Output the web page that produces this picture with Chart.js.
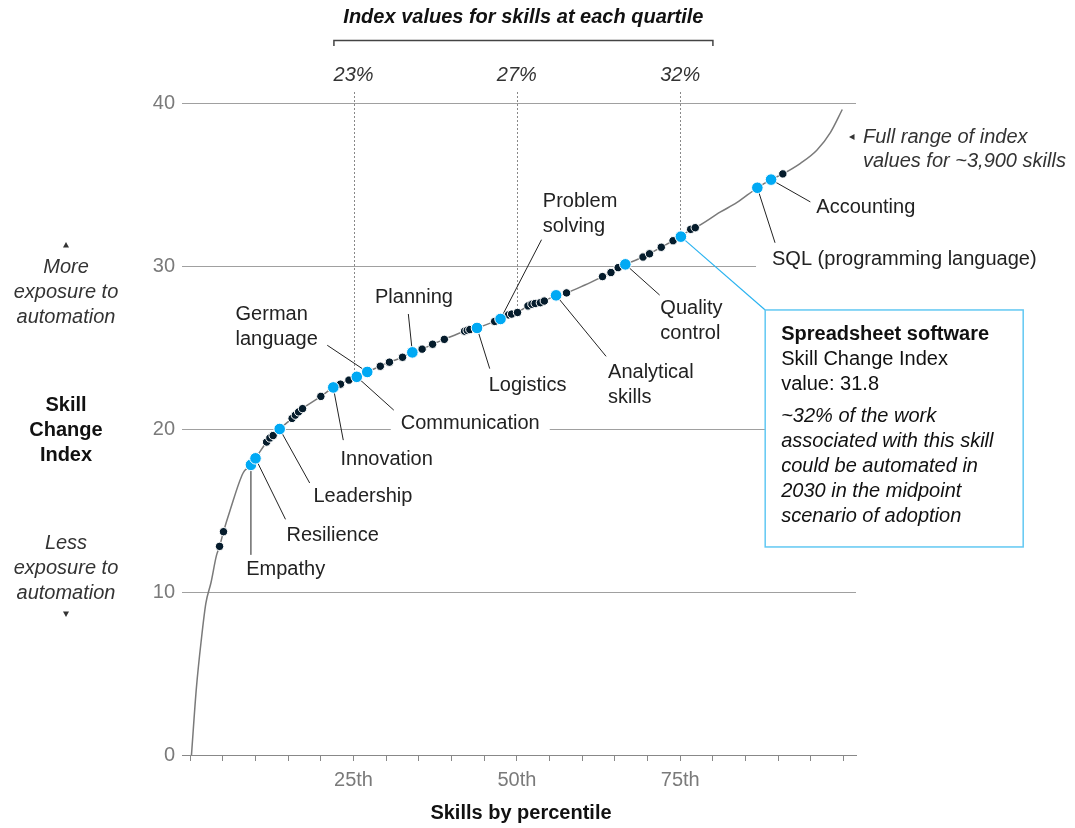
<!DOCTYPE html>
<html>
<head>
<meta charset="utf-8">
<script src="https://cdn.jsdelivr.net/npm/chart.js@4.4.1/dist/chart.umd.min.js"></script>
<style>
    html, body { margin: 0; padding: 0; background: #fff; }
</style>
</head>
<body>
<canvas id="skills-chart" width="1075" height="828"></canvas>
<script>
// Highlighted skills (blue dots)
const skillNames = ['Empathy', 'Resilience', 'Leadership', 'Innovation', 'Communication', 'German language',
    'Planning', 'Logistics', 'Problem solving', 'Analytical skills', 'Quality control',
    'Spreadsheet software', 'SQL (programming language)', 'Accounting'];
const skillPct = [9.3, 10.0, 13.7, 21.9, 25.5, 27.1, 34.0, 43.9, 47.5, 56.0, 66.6, 75.1, 86.8, 88.9];
const skillVal = [17.8, 18.2, 20.0, 22.55, 23.2, 23.5, 24.7, 26.2, 26.75, 28.2, 30.1, 31.8, 34.8, 35.3];

// Other sampled skills (dark dots)
const otherPct = [4.5, 5.1, 11.7, 12.2, 12.7, 15.6, 16.1, 16.6, 17.2, 20.0, 23.0, 24.3, 29.1, 30.5, 32.5,
    35.5, 37.1, 38.9, 42.0, 42.4, 42.8, 46.6, 48.7, 49.2, 50.1, 51.7, 52.3, 52.8, 53.6, 54.2,
    57.6, 63.1, 64.4, 65.5, 69.3, 70.3, 72.1, 73.9, 76.6, 77.3, 90.7];
const otherVal = [12.8, 13.7, 19.2, 19.45, 19.6, 20.65, 20.85, 21.05, 21.25, 22.0, 22.75, 23.0, 23.85, 24.1, 24.4,
    24.9, 25.2, 25.5, 26.0, 26.05, 26.1, 26.6, 27.0, 27.05, 27.15, 27.55, 27.65, 27.7, 27.75, 27.85,
    28.35, 29.35, 29.6, 29.9, 30.55, 30.75, 31.15, 31.55, 32.25, 32.35, 35.65];

// Full range curve (~3,900 skills) between the dots
const curvePct = [0.2, 0.95, 1.7, 2.4, 3.2, 4.0, 6.1, 8.1, 60.5, 81.1, 83.7, 93.4, 95.9, 98.0, 99.8];
const curveVal = [0, 4.1, 7.05, 9.3, 10.6, 12.2, 15.0, 17.3, 28.85, 33.3, 33.9, 36.3, 37.1, 38.2, 39.6];

// Axes
const yTicks = [0, 10, 20, 30, 40];
const xTicks = [0, 5, 10, 15, 20, 25, 30, 35, 40, 45, 50, 55, 60, 65, 70, 75, 80, 85, 90, 95, 100];
const xLabelled = [25, 50, 75];

// Quartiles
const quartilePct = [25, 50, 75];
const quartileVal = [23, 27, 32];

const FONT = '"Liberation Sans", Arial, sans-serif';
const BLUE = '#00a9f4';
const NAVY = '#051c2c';
const TEXT = '#222';

const toPoints = (xs, ys) => xs.map((v, i) => ({ x: v, y: ys[i] }));
const curvePoints = toPoints(curvePct, curveVal)
    .concat(toPoints(skillPct, skillVal), toPoints(otherPct, otherVal))
    .sort((a, b) => a.x - b.x);

// label placement, offsets in px from the dot: text (tx, ty), leader end (lx, ly)
const labelLayout = {
    'Empathy': { tx: -4.7, ty: 105, lx: 0, ly: 90 },
    'Resilience': { tx: 31, ty: 77, lx: 30, ly: 61 },
    'Leadership': { tx: 33.7, ty: 67.7, lx: 30, ly: 54 },
    'Innovation': { tx: 7.3, ty: 71.7, lx: 10, ly: 52.7 },
    'Communication': { tx: 44, ty: 46.3, lx: 37, ly: 33.3, gapL: 10, gapR: 10 },
    'German language': { tx: -131.7, ty: -57.7, lx: -40, ly: -26.7, lines: ['German', 'language'] },
    'Planning': { tx: -37.3, ty: -54.7, lx: -4, ly: -38.4 },
    'Logistics': { tx: 11.7, ty: 57.7, lx: 12.7, ly: 40.7 },
    'Problem solving': { tx: 42.3, ty: -117.3, lx: 41, ly: -79.3, lines: ['Problem', 'solving'] },
    'Analytical skills': { tx: 52, ty: 77, lx: 50, ly: 61, lines: ['Analytical', 'skills'] },
    'Quality control': { tx: 35, ty: 43.7, lx: 34.3, ly: 30.7, lines: ['Quality', 'control'] },
    'SQL (programming language)': { tx: 14.7, ty: 71.7, lx: 17.7, ly: 55, gapL: 16, gapR: 4 },
    'Accounting': { tx: 45.3, ty: 28.3, lx: 39.3, ly: 22.3 }
};

function font(size, weight, style) {
    return (style || 'normal') + ' ' + (weight || 'normal') + ' ' + size + 'px ' + FONT;
}

function triangle(ctx, x, y, dir) {
    ctx.beginPath();
    if (dir === 'up') { ctx.moveTo(x, y - 3); ctx.lineTo(x - 3, y + 2.5); ctx.lineTo(x + 3, y + 2.5); }
    if (dir === 'down') { ctx.moveTo(x, y + 3); ctx.lineTo(x - 3, y - 2.5); ctx.lineTo(x + 3, y - 2.5); }
    if (dir === 'left') { ctx.moveTo(x - 3, y); ctx.lineTo(x + 2.5, y - 3); ctx.lineTo(x + 2.5, y + 3); }
    ctx.closePath();
    ctx.fill();
}

const annotations = {
    id: 'annotations',
    beforeDatasetsDraw(chart) {
        const { ctx, chartArea: a, scales: { x, y } } = chart;
        ctx.save();

        // quartile dotted lines
        ctx.strokeStyle = '#888';
        ctx.lineWidth = 1;
        ctx.setLineDash([2, 2]);
        quartilePct.forEach((p, i) => {
            const px = Math.round(x.getPixelForValue(p)) + 0.5;
            ctx.beginPath();
            ctx.moveTo(px, 92);
            ctx.lineTo(px, y.getPixelForValue(quartileVal[i]));
            ctx.stroke();
        });
        ctx.setLineDash([]);

        // quartile header
        ctx.fillStyle = '#333';
        ctx.textBaseline = 'middle';
        ctx.textAlign = 'center';
        ctx.font = font(20, 'normal', 'italic');
        quartilePct.forEach((p, i) => ctx.fillText(quartileVal[i] + '%', x.getPixelForValue(p), 75));
        const bx0 = x.getPixelForValue(22), bx1 = x.getPixelForValue(80);
        ctx.strokeStyle = '#444';
        ctx.lineWidth = 1.5;
        ctx.beginPath();
        ctx.moveTo(bx0, 46); ctx.lineTo(bx0, 40.5); ctx.lineTo(bx1, 40.5); ctx.lineTo(bx1, 46);
        ctx.stroke();
        ctx.fillStyle = '#111';
        ctx.font = font(20, 'bold', 'italic');
        ctx.fillText('Index values for skills at each quartile', (bx0 + bx1) / 2, 17);

        // y axis side notes
        ctx.fillStyle = '#333';
        ctx.font = font(20, 'normal', 'italic');
        triangle(ctx, 66, 245, 'up');
        ['More', 'exposure to', 'automation'].forEach((t, i) => ctx.fillText(t, 66, 267 + i * 25));
        ['Less', 'exposure to', 'automation'].forEach((t, i) => ctx.fillText(t, 66, 543 + i * 25));
        triangle(ctx, 66, 614, 'down');
        ctx.fillStyle = '#111';
        ctx.font = font(20, 'bold');
        ['Skill', 'Change', 'Index'].forEach((t, i) => ctx.fillText(t, 66, 405 + i * 25));

        // x axis title
        ctx.fillText('Skills by percentile', (a.left + a.right) / 2 + 2, 813);

        // full range note
        ctx.fillStyle = '#333';
        triangle(ctx, a.right - 4, 137, 'left');
        ctx.textAlign = 'left';
        ctx.font = font(20, 'normal', 'italic');
        ctx.fillText('Full range of index', a.right + 7, 137);
        ctx.fillText('values for ~3,900 skills', a.right + 7, 161);

        // skill labels with leader lines
        ctx.font = font(20);
        skillNames.forEach((name, i) => {
            const L = labelLayout[name];
            if (!L) return;
            const dx = x.getPixelForValue(skillPct[i]);
            const dy = y.getPixelForValue(skillVal[i]);
            const lines = L.lines || [name];
            if (L.gapL !== undefined) {
                const w = ctx.measureText(lines[0]).width;
                ctx.fillStyle = '#fff';
                ctx.fillRect(dx + L.tx - L.gapL, dy + L.ty - 12, w + L.gapL + L.gapR, 24);
            }
            ctx.strokeStyle = '#222';
            ctx.lineWidth = 1;
            ctx.beginPath();
            ctx.moveTo(dx, dy);
            ctx.lineTo(dx + L.lx, dy + L.ly);
            ctx.stroke();
            ctx.fillStyle = TEXT;
            lines.forEach((t, j) => ctx.fillText(t, dx + L.tx, dy + L.ty + j * 25));
        });

        // spreadsheet software callout
        const si = skillNames.indexOf('Spreadsheet software');
        const sx = x.getPixelForValue(skillPct[si]);
        const sy = y.getPixelForValue(skillVal[si]);
        const boxX = sx + 84.3, boxY = sy + 73.3, boxW = 258, boxH = 237;
        ctx.strokeStyle = '#2bb3f0';
        ctx.lineWidth = 1.2;
        ctx.beginPath();
        ctx.moveTo(sx, sy);
        ctx.lineTo(boxX, boxY);
        ctx.stroke();
        ctx.fillStyle = '#fff';
        ctx.fillRect(boxX, boxY, boxW, boxH);
        ctx.strokeStyle = '#62c8f3';
        ctx.lineWidth = 1.5;
        ctx.strokeRect(boxX, boxY, boxW, boxH);
        ctx.fillStyle = '#111';
        ctx.font = font(20, 'bold');
        ctx.fillText('Spreadsheet software', boxX + 16, boxY + 25);
        ctx.font = font(20);
        ctx.fillText('Skill Change Index', boxX + 16, boxY + 50);
        ctx.fillText('value: ' + skillVal[si], boxX + 16, boxY + 75);
        ctx.font = font(20, 'normal', 'italic');
        ['~32% of the work', 'associated with this skill', 'could be automated in',
            '2030 in the midpoint', 'scenario of adoption'].forEach((t, j) => ctx.fillText(t, boxX + 16, boxY + 106 + j * 25));

        ctx.restore();
    }
};

const ctx = document.getElementById('skills-chart').getContext('2d');
new Chart(ctx, {
    type: 'line',
    data: {
        datasets: [{
            label: 'Highlighted skills',
            data: toPoints(skillPct, skillVal),
            showLine: false,
            pointRadius: 5.8,
            pointBackgroundColor: BLUE,
            pointBorderColor: '#fff',
            pointBorderWidth: 1,
            order: 0
        }, {
            label: 'Other skills',
            data: toPoints(otherPct, otherVal),
            showLine: false,
            pointRadius: 4.2,
            pointBackgroundColor: NAVY,
            pointBorderColor: '#fff',
            pointBorderWidth: 1,
            order: 1
        }, {
            label: 'All skills',
            data: curvePoints,
            borderColor: '#7a7a7a',
            borderWidth: 1.5,
            pointRadius: 0,
            cubicInterpolationMode: 'monotone',
            order: 2
        }]
    },
    options: {
        responsive: false,
        animation: false,
        layout: { padding: { top: 103, right: 219, left: 0, bottom: 0 } },
        plugins: {
            legend: { display: false },
            tooltip: { enabled: false }
        },
        scales: {
            x: {
                type: 'linear',
                min: -1.25,
                max: 101.9,
                afterBuildTicks: s => { s.ticks = xTicks.map(v => ({ value: v })); },
                afterFit: s => { s.height = 73; },
                grid: { drawOnChartArea: false, drawTicks: true, tickLength: 6, color: '#888' },
                border: { display: true, color: '#888' },
                ticks: {
                    autoSkip: false,
                    maxRotation: 0,
                    padding: 7,
                    color: '#7a7a7a',
                    font: { family: FONT, size: 20 },
                    callback: v => xLabelled.includes(v) ? v + 'th' : ''
                }
            },
            y: {
                min: 0,
                max: 40,
                afterBuildTicks: s => { s.ticks = yTicks.map(v => ({ value: v })); },
                afterFit: s => { s.width = 182; },
                grid: { color: '#a0a0a0', drawTicks: false },
                border: { display: false },
                ticks: {
                    padding: 7,
                    color: '#7a7a7a',
                    font: { family: FONT, size: 20 }
                }
            }
        }
    },
    plugins: [annotations]
});
</script>
</body>
</html>
